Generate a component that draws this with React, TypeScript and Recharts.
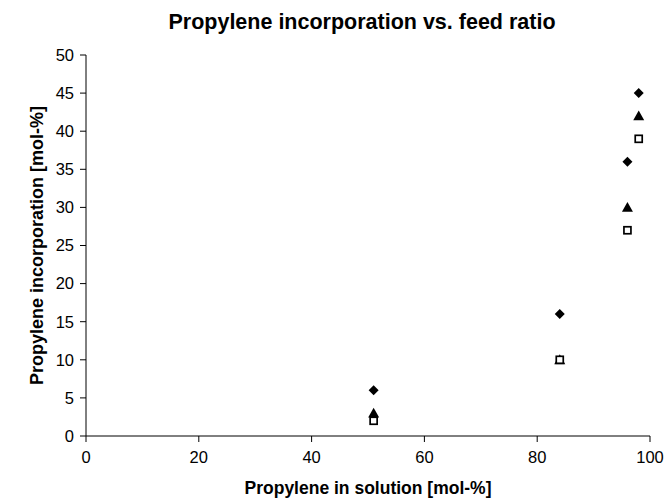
import React from "react";
import { ScatterChart, Scatter, XAxis, YAxis, Label } from "recharts";

const seriesA = [
  { x: 51, y: 6 },
  { x: 84, y: 16 },
  { x: 96, y: 36 },
  { x: 98, y: 45 },
];
const seriesB = [
  { x: 51, y: 3 },
  { x: 84, y: 10 },
  { x: 96, y: 30 },
  { x: 98, y: 42 },
];
const seriesC = [
  { x: 51, y: 2 },
  { x: 84, y: 10 },
  { x: 96, y: 27 },
  { x: 98, y: 39 },
];
const xTicks = [0, 20, 40, 60, 80, 100];
const yTicks = [0, 5, 10, 15, 20, 25, 30, 35, 40, 45, 50];

const FONT = "Liberation Sans, Arial, sans-serif";

const Diamond = (props: any) => {
  const { cx, cy } = props;
  if (cx == null || cy == null) return null;
  const r = 5;
  return (
    <path
      d={`M${cx},${cy - r} L${cx + r},${cy} L${cx},${cy + r} L${cx - r},${cy} Z`}
      fill="#000"
    />
  );
};

const Triangle = (props: any) => {
  const { cx, cy } = props;
  if (cx == null || cy == null) return null;
  const r = 5.5;
  return (
    <path
      d={`M${cx},${cy - r} L${cx + r},${cy + r * 0.8} L${cx - r},${cy + r * 0.8} Z`}
      fill="#000"
    />
  );
};

const Square = (props: any) => {
  const { cx, cy } = props;
  if (cx == null || cy == null) return null;
  const s = 3.5;
  return (
    <rect
      x={cx - s}
      y={cy - s}
      width={2 * s}
      height={2 * s}
      fill="#fff"
      stroke="#000"
      strokeWidth={1.7}
    />
  );
};

export default function App() {
  return (
    <div style={{ position: "absolute", left: 0, top: 0, width: 665, height: 498, background: "#fff" }}>
      <ScatterChart
        width={665}
        height={498}
        margin={{ top: 55, right: 15, bottom: 0, left: 0 }}
      >
        <text
          x={362}
          y={29}
          textAnchor="middle"
          style={{ fontFamily: FONT, fontWeight: "bold", fontSize: 21.5 }}
          fill="#000"
        >
          Propylene incorporation vs. feed ratio
        </text>
        <XAxis
          type="number"
          dataKey="x"
          domain={[0, 100]}
          ticks={xTicks}
          height={62}
          tickSize={6}
          tickMargin={9}
          stroke="#000"
          tick={{ fill: "#000", fontSize: 16.5, fontFamily: FONT }}
          axisLine={{ stroke: "#000", strokeWidth: 1 }}
          tickLine={{ stroke: "#000" }}
          interval={0}
        >
          <Label
            value="Propylene in solution [mol-%]"
            position="insideBottom"
            offset={4.5}
            style={{ fontFamily: FONT, fontWeight: "bold", fontSize: 17.5, fill: "#000" }}
          />
        </XAxis>
        <YAxis
          type="number"
          dataKey="y"
          domain={[0, 50]}
          ticks={yTicks}
          width={86}
          tickSize={6}
          tickMargin={6}
          stroke="#000"
          tick={{ fill: "#000", fontSize: 16.5, fontFamily: FONT }}
          axisLine={{ stroke: "#000", strokeWidth: 1 }}
          tickLine={{ stroke: "#000" }}
          interval={0}
        >
          <Label
            value="Propylene incorporation [mol-%]"
            angle={-90}
            position="insideLeft"
            offset={37}
            style={{ textAnchor: "middle", fontFamily: FONT, fontWeight: "bold", fontSize: 18, fill: "#000" }}
          />
        </YAxis>
        <Scatter data={seriesA} shape={<Diamond />} isAnimationActive={false} />
        <Scatter data={seriesB} shape={<Triangle />} isAnimationActive={false} />
        <Scatter data={seriesC} shape={<Square />} isAnimationActive={false} />
      </ScatterChart>
    </div>
  );
}
